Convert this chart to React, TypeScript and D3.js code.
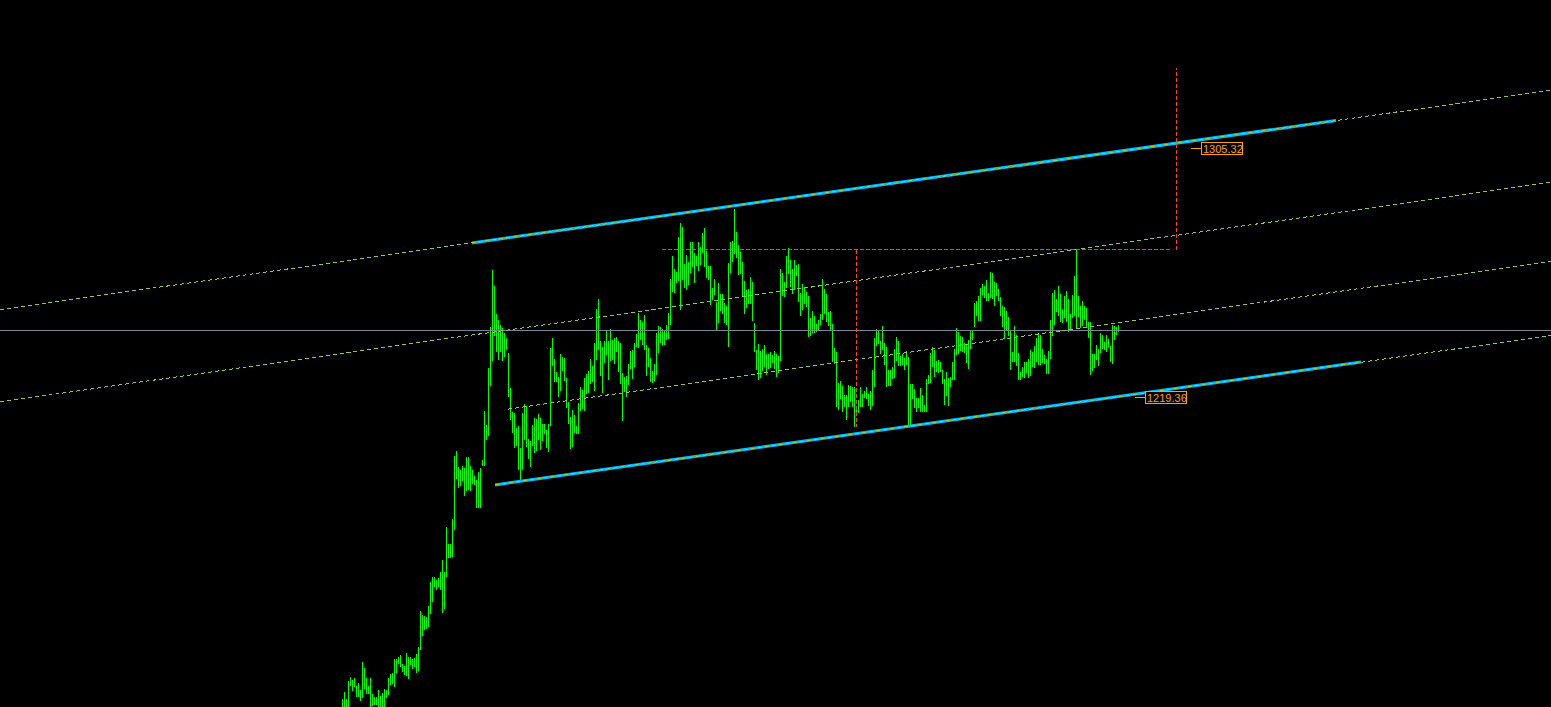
import React, { useRef, useEffect } from 'react';
import * as d3 from 'd3';

const WIDTH = 1551;
const HEIGHT = 707;

// bar highs, oldest first (one bar every 2px, MT4 smallest zoom)
const highs = [
  1115.3, 1117.8, 1115.3, 1121.6, 1122.9, 1121.9, 1122.6, 1119.8, 1120.9, 1118.5,
  1128.1, 1126.0, 1122.6, 1119.8, 1122.6, 1117.1, 1116.0, 1116.0, 1118.5, 1116.4,
  1117.4, 1118.8, 1118.5, 1122.6, 1124.0, 1124.3, 1129.1, 1129.1, 1129.8, 1130.5,
  1127.4, 1126.7, 1131.2, 1129.8, 1129.8, 1129.1, 1129.5, 1130.9, 1133.3, 1145.7,
  1144.3, 1144.0, 1143.6, 1147.4, 1155.7, 1157.4, 1157.4, 1156.4, 1157.1, 1159.2,
  1163.3, 1159.2, 1174.7, 1168.8, 1168.8, 1177.4, 1199.2, 1200.9, 1195.4, 1194.4,
  1195.7, 1195.0, 1198.8, 1198.8,
  1195.7, 1194.4, 1192.3, 1190.9, 1193.7, 1195.0, 1197.8, 1214.7, 1209.9, 1229.5,
  1243.7, 1263.4, 1257.8, 1248.2, 1246.1, 1244.4, 1243.3, 1241.6, 1239.9, 1234.7,
  1222.6, 1214.4, 1214.0, 1208.8, 1209.5, 1201.9, 1214.0, 1217.1, 1216.4, 1205.0,
  1204.4, 1209.9, 1212.3, 1212.0, 1213.7, 1212.3, 1210.2, 1210.2, 1208.2, 1210.2,
  1236.4, 1239.9, 1232.6, 1228.2, 1226.4, 1234.4, 1233.3, 1233.0, 1226.1, 1217.8,
  1212.6, 1215.1, 1213.3, 1209.5, 1217.5, 1223.0, 1222.0, 1226.1, 1227.5, 1228.5,
  1232.6, 1230.2, 1238.2, 1249.9,
  1253.3, 1238.9, 1236.8, 1238.9, 1242.3, 1238.9, 1243.0, 1239.2, 1239.9, 1240.2,
  1238.9, 1238.2, 1227.8, 1226.4, 1226.8, 1230.9, 1235.4, 1235.8, 1238.2, 1241.3,
  1248.5, 1246.1, 1245.4, 1247.8, 1237.5, 1236.4, 1233.0, 1228.5, 1230.9, 1241.6,
  1244.0, 1243.7, 1243.0, 1242.3, 1244.4, 1248.5, 1260.2, 1268.2, 1263.7, 1262.7,
  1274.7, 1279.6, 1278.2, 1265.4, 1268.5, 1266.1, 1273.0, 1273.0, 1269.2, 1268.2,
  1273.0, 1271.3, 1276.1, 1277.8, 1269.9, 1264.7, 1264.7, 1257.1, 1260.2, 1252.3,
  1258.9, 1255.1, 1255.1, 1252.0,
  1250.9, 1265.8, 1273.0, 1273.4, 1284.4, 1276.5, 1272.0, 1269.6, 1266.1, 1259.6,
  1256.5, 1256.8, 1260.9, 1259.2, 1245.1, 1235.8, 1237.8, 1235.4, 1236.1, 1237.5,
  1234.4, 1234.4, 1235.1, 1234.0, 1235.4, 1234.4, 1233.7, 1263.7, 1262.3, 1259.2,
  1268.2, 1270.9, 1266.8, 1263.7, 1266.8, 1265.1, 1265.4, 1255.4, 1258.5, 1257.1,
  1255.8, 1254.4, 1246.8, 1249.2, 1247.5, 1244.7, 1246.1, 1248.2, 1260.2, 1256.8,
  1255.1, 1248.9, 1249.2, 1244.7, 1236.4, 1235.1, 1224.4, 1225.1, 1223.3, 1220.2,
  1220.2, 1223.7, 1223.3, 1223.0,
  1223.0, 1216.4, 1218.5, 1223.0, 1220.6, 1221.6, 1223.0, 1220.6, 1221.6, 1228.9,
  1239.9, 1243.0, 1242.7, 1238.9, 1244.0, 1238.2, 1236.8, 1228.9, 1228.9, 1229.9,
  1236.1, 1240.2, 1238.9, 1233.7, 1234.4, 1233.0, 1235.4, 1233.3, 1224.0, 1224.0,
  1222.3, 1219.2, 1219.2, 1222.6, 1220.2, 1216.8, 1225.8, 1227.1, 1234.7, 1236.8,
  1235.8, 1232.0, 1232.3, 1231.6, 1228.9, 1225.8, 1228.2, 1226.1, 1226.4, 1231.6,
  1236.1, 1243.3, 1242.0, 1240.6, 1240.2, 1238.2, 1237.8, 1239.2, 1242.7, 1242.7,
  1252.0, 1252.7, 1254.4, 1257.1,
  1258.5, 1257.8, 1259.9, 1255.4, 1262.7, 1262.3, 1259.2, 1258.9, 1256.8, 1254.0,
  1250.9, 1250.6, 1249.2, 1247.1, 1242.7, 1235.1, 1244.0, 1240.9, 1234.7, 1228.2,
  1229.9, 1231.6, 1231.6, 1232.6, 1235.8, 1235.1, 1237.1, 1239.9, 1241.3, 1240.9,
  1236.1, 1234.0, 1232.6, 1235.4, 1246.1, 1255.4, 1256.5, 1253.3, 1257.8, 1255.1,
  1249.9, 1254.4, 1256.1, 1253.3, 1248.2, 1254.7, 1261.3, 1270.6, 1254.4, 1250.9,
  1252.7, 1250.9, 1250.2, 1245.4, 1245.4, 1234.4, 1234.4, 1237.5, 1236.1, 1241.6,
  1240.9, 1238.5, 1240.9, 1239.5, 1237.1, 1244.4, 1244.0, 1243.7, 1244.4,
];

// bar lows, same order
const lows = [
  1110.0, 1109.5, 1110.2, 1109.0, 1119.8, 1118.1, 1119.5, 1116.0, 1116.0, 1114.7,
  1115.7, 1118.8, 1117.1, 1117.1, 1110.0, 1112.9, 1113.3, 1113.3, 1109.5, 1110.0,
  1110.0, 1110.0, 1115.7, 1116.7, 1120.2, 1120.5, 1119.5, 1124.3, 1127.4, 1126.4,
  1124.7, 1123.6, 1123.2, 1122.2, 1127.1, 1125.7, 1126.4, 1124.3, 1125.0, 1132.3,
  1137.1, 1139.2, 1139.5, 1140.2, 1144.7, 1148.8, 1154.0, 1153.0, 1154.0, 1153.0,
  1145.0, 1146.4, 1157.4, 1164.0, 1164.0, 1164.3, 1173.7, 1191.2, 1188.1, 1188.8,
  1190.6, 1185.4, 1187.1, 1187.5,
  1187.1, 1189.5, 1189.2, 1181.2, 1181.2, 1181.2, 1195.7, 1195.7, 1204.7, 1206.1,
  1223.3, 1232.0, 1240.6, 1235.1, 1232.3, 1235.1, 1232.0, 1233.3, 1235.8, 1219.5,
  1211.6, 1207.1, 1201.9, 1202.6, 1194.4, 1190.2, 1194.4, 1204.7, 1202.3, 1198.1,
  1195.4, 1202.6, 1200.2, 1200.9, 1204.7, 1201.3, 1204.4, 1206.8, 1201.9, 1200.6,
  1209.5, 1230.2, 1224.7, 1224.7, 1219.5, 1221.6, 1228.5, 1225.1, 1215.7, 1210.2,
  1201.6, 1202.3, 1207.1, 1206.8, 1206.8, 1214.7, 1215.4, 1214.7, 1220.6, 1220.9,
  1224.0, 1224.7, 1221.6, 1232.3,
  1235.8, 1226.8, 1220.9, 1231.3, 1234.0, 1225.4, 1232.0, 1232.3, 1230.9, 1235.1,
  1228.2, 1224.0, 1211.3, 1221.3, 1219.5, 1223.7, 1229.2, 1225.8, 1229.9, 1236.8,
  1236.4, 1239.2, 1237.5, 1235.8, 1226.8, 1229.9, 1224.7, 1224.4, 1225.1, 1227.1,
  1234.7, 1238.2, 1237.1, 1237.5, 1239.2, 1239.5, 1244.4, 1255.8, 1255.4, 1258.9,
  1259.6, 1249.6, 1259.9, 1257.1, 1256.5, 1258.2, 1262.3, 1264.4, 1258.9, 1264.7,
  1263.0, 1265.1, 1269.2, 1264.4, 1260.6, 1259.9, 1251.3, 1253.0, 1254.7, 1242.7,
  1245.1, 1249.2, 1248.2, 1245.1,
  1244.4, 1236.8, 1262.3, 1266.1, 1268.9, 1267.5, 1261.6, 1262.0, 1254.0, 1248.2,
  1250.2, 1251.6, 1251.6, 1245.8, 1235.1, 1228.9, 1225.4, 1226.1, 1228.5, 1229.9,
  1227.1, 1229.2, 1229.5, 1231.3, 1229.2, 1226.4, 1227.8, 1232.0, 1254.4, 1254.0,
  1257.1, 1262.0, 1257.5, 1255.1, 1256.5, 1261.3, 1252.3, 1247.5, 1249.6, 1251.6,
  1250.6, 1240.2, 1240.6, 1241.6, 1241.6, 1242.0, 1242.3, 1244.4, 1246.1, 1248.2,
  1245.4, 1244.0, 1242.3, 1231.6, 1230.9, 1216.1, 1215.1, 1218.8, 1214.4, 1216.1,
  1211.6, 1216.1, 1217.8, 1216.1,
  1209.2, 1214.0, 1214.0, 1216.1, 1216.1, 1219.2, 1218.8, 1216.4, 1215.1, 1216.4,
  1223.0, 1237.1, 1237.8, 1234.4, 1235.8, 1230.6, 1223.0, 1223.3, 1223.3, 1225.8,
  1226.1, 1232.0, 1230.2, 1230.2, 1230.6, 1228.9, 1230.6, 1209.5, 1209.9, 1218.8,
  1215.7, 1214.4, 1215.7, 1214.4, 1214.4, 1214.4, 1214.4, 1224.0, 1224.4, 1229.9,
  1226.4, 1228.2, 1227.8, 1228.2, 1224.0, 1216.8, 1219.9, 1216.4, 1223.0, 1225.4,
  1225.4, 1234.0, 1234.4, 1235.4, 1235.1, 1234.7, 1231.3, 1229.2, 1236.1, 1239.2,
  1243.7, 1247.5, 1245.8, 1245.8,
  1254.7, 1253.7, 1252.7, 1252.7, 1253.7, 1253.3, 1250.9, 1254.4, 1252.7, 1247.5,
  1243.7, 1239.5, 1242.7, 1240.6, 1228.9, 1231.6, 1231.6, 1230.2, 1225.4, 1225.4,
  1226.4, 1226.1, 1227.8, 1226.1, 1226.8, 1229.9, 1229.5, 1231.6, 1230.6, 1230.6,
  1231.3, 1230.9, 1227.5, 1227.5, 1232.6, 1240.6, 1244.4, 1248.9, 1247.5, 1245.4,
  1245.1, 1246.8, 1245.4, 1242.0, 1242.7, 1246.8, 1247.5, 1243.0, 1247.1, 1243.3,
  1244.0, 1246.1, 1243.3, 1239.9, 1227.1, 1228.5, 1229.5, 1232.3, 1230.2, 1234.7,
  1236.1, 1235.8, 1235.1, 1236.8, 1231.6, 1230.9, 1239.2, 1240.9, 1242.0,
];

// visible price range of the window
const priceMin = 1112.58;
const priceMax = 1356.5;

// channel anchors: bar index (may run into the future) and price
const channelTop = [{ bar: 64.75, price: 1272.7 }, { bar: 496.75, price: 1314.9 }];
const channelBottom = [{ bar: 76.25, price: 1189.2 }, { bar: 509.25, price: 1231.6 }];

// dashed parallels: price offset from the top line, first bar (null = from left edge)
const parallelOffsets = [0, -31.8, -59.1, -84.6];
const parallelStarts: (number | null)[] = [null, null, 82.75, 76.25];

const bidPrice = 1242.65;

// red dotted level + two vertical markers
const levelPrice = 1270.6;
const levelBars = [159.75, 413.75];
const markerBars = [256.75, 416.75];
const markerEnds = [1209.2, 1333.0];

// price tags on the channel
const tagPrices = [1305.32, 1219.36];
const tagBars = [424.25, 396.25];

const FIRST_BAR_X = 342.5;
const BAR_STEP = 2;

const priceOn = (pts: { bar: number; price: number }[], bar: number) =>
  pts[0].price + (bar - pts[0].bar) * (pts[1].price - pts[0].price) / (pts[1].bar - pts[0].bar);

const ChannelChart = () => {
  const svgRef = useRef<SVGSVGElement | null>(null);

  useEffect(() => {
    const svg = d3.select(svgRef.current);
    svg.selectAll('*').remove();

    const n = Math.min(highs.length, lows.length);
    const x = d3.scaleLinear()
      .domain([0, n - 1])
      .range([FIRST_BAR_X, FIRST_BAR_X + BAR_STEP * (n - 1)]);
    const y = d3.scaleLinear().domain([priceMin, priceMax]).range([HEIGHT, 0]);

    const leftBar = x.invert(0);
    const rightBar = x.invert(WIDTH);

    svg.append('rect').attr('width', WIDTH).attr('height', HEIGHT).attr('fill', '#000');

    // bars
    svg.append('g')
      .attr('shape-rendering', 'crispEdges')
      .selectAll('line')
      .data(d3.range(n))
      .enter()
      .append('line')
      .attr('x1', i => x(i))
      .attr('x2', i => x(i))
      .attr('y1', i => y(highs[i]))
      .attr('y2', i => y(lows[i]))
      .attr('stroke', '#00ff00')
      .attr('stroke-width', 1);

    // bid line
    svg.append('line')
      .attr('x1', 0)
      .attr('x2', WIDTH)
      .attr('y1', Math.round(y(bidPrice)) + 0.5)
      .attr('y2', Math.round(y(bidPrice)) + 0.5)
      .attr('stroke', '#778899')
      .attr('shape-rendering', 'crispEdges');

    // channel (blue)
    [channelTop, channelBottom].forEach(pts => {
      svg.append('line')
        .attr('x1', x(pts[0].bar))
        .attr('y1', y(pts[0].price))
        .attr('x2', x(pts[1].bar))
        .attr('y2', y(pts[1].price))
        .attr('stroke', '#00bfff')
        .attr('stroke-width', 3);
    });

    // dashed parallels
    parallelOffsets.forEach((off, k) => {
      const b0 = parallelStarts[k] ?? leftBar;
      svg.append('line')
        .attr('x1', x(b0))
        .attr('y1', y(priceOn(channelTop, b0) + off))
        .attr('x2', x(rightBar))
        .attr('y2', y(priceOn(channelTop, rightBar) + off))
        .attr('stroke', '#9acd32')
        .attr('stroke-width', 1)
        .attr('stroke-dasharray', '4,3')
        .attr('shape-rendering', 'crispEdges');
    });

    // red dotted level and markers
    const red = svg.append('g')
      .attr('stroke', '#ff4500')
      .attr('stroke-width', 1)
      .attr('stroke-dasharray', '4,2')
      .attr('shape-rendering', 'crispEdges');
    const ly = Math.round(y(levelPrice)) + 0.5;
    red.append('line')
      .attr('x1', x(levelBars[0]))
      .attr('x2', x(levelBars[1]))
      .attr('y1', ly)
      .attr('y2', ly);
    markerBars.forEach((b, k) => {
      const mx = Math.round(x(b)) + 0.5;
      red.append('line')
        .attr('x1', mx)
        .attr('x2', mx)
        .attr('y1', ly)
        .attr('y2', y(markerEnds[k]));
    });

    // price tags
    tagPrices.forEach((p, k) => {
      const tx = Math.round(x(tagBars[k]));
      const ty = Math.round(y(p)) + 0.5;
      const g = svg.append('g').attr('shape-rendering', 'crispEdges');
      g.append('line')
        .attr('x1', tx)
        .attr('x2', tx + 10)
        .attr('y1', ty)
        .attr('y2', ty)
        .attr('stroke', '#ffa500');
      g.append('rect')
        .attr('x', tx + 10.5)
        .attr('y', ty - 6)
        .attr('width', 41)
        .attr('height', 12)
        .attr('fill', '#000')
        .attr('stroke', '#ffa500');
      g.append('text')
        .attr('x', tx + 12)
        .attr('y', ty + 4.5)
        .attr('fill', '#ffa500')
        .style('font-family', '"Liberation Sans", Arial, sans-serif')
        .style('font-size', '11px')
        .text(p.toFixed(2));
    });
  }, []);

  return (
    <svg ref={svgRef} width={WIDTH} height={HEIGHT} style={{ display: 'block' }} />
  );
};

export default function App() {
  return (
    <div style={{ position: 'fixed', left: 0, top: 0, width: WIDTH, height: HEIGHT, background: '#000' }}>
      <ChannelChart />
    </div>
  );
}
